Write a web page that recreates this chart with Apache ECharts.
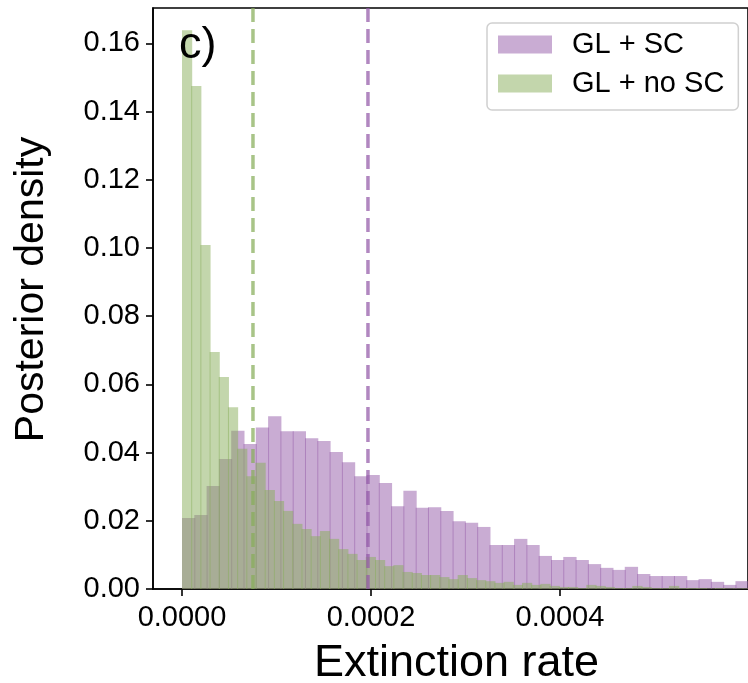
<!DOCTYPE html>
<html>
<head>
<meta charset="utf-8">
<script src="https://cdn.jsdelivr.net/npm/echarts@6/dist/echarts.min.js"></script>
<style>html,body{margin:0;padding:0;background:#fff}#c{width:748px;height:683px}</style>
</head>
<body>
<div id="c"></div>
<script>
// ---- data ----
const seriesNames = ['GL + SC', 'GL + no SC'];
const purpleBinWidth = 1.3016e-5;   // histogram bin width, GL + SC
const greenBinWidth = 9.725e-6;     // histogram bin width, GL + no SC
const purpleDensity = [0.0208,0.0217,0.0302,0.0381,0.0464,0.0425,0.0474,0.0507,0.0463,0.0463,
  0.0442,0.0434,0.0402,0.0372,0.0331,0.0334,0.0311,0.0243,0.0288,0.0238,
  0.0240,0.0229,0.0199,0.0194,0.0182,0.0129,0.0129,0.0147,0.0129,0.0097,
  0.0085,0.0094,0.0085,0.0073,0.0062,0.0056,0.0065,0.0044,0.0038,0.0038,
  0.0038,0.0026,0.0029,0.0021,0.0012,0.0023];
const greenDensity = [0.1639,0.1475,0.1009,0.0695,0.0622,0.0533,0.0411,0.0331,0.0370,0.0290,
  0.0258,0.0229,0.0191,0.0176,0.0155,0.0170,0.0147,0.0117,0.0103,0.0085,
  0.0094,0.0085,0.0067,0.0070,0.0050,0.0047,0.0041,0.0041,0.0035,0.0029,
  0.0041,0.0032,0.0026,0.0023,0.0018,0.0021,0.0012,0.0018,0.0012,0.0015,
  0.0009,0.0006,0.0006,0.0003,0.0012,0.0009,0.0006,0.0003,0.0003,0.0009,
  0.0006,0.0003,0.0003,0.0009,0.0003,0.0003,0.0003,0.0002,0.0003,0.0002,
  0.0002,0.0002];
const medians = [1.968e-4, 7.51e-5];  // dashed vertical lines (GL + SC, GL + no SC)
const xTicks = [0, 0.0002, 0.0004];
const yTicks = [0, 0.02, 0.04, 0.06, 0.08, 0.10, 0.12, 0.14, 0.16];
const xRange = [-3.07e-5, 5.99e-4];
const yRange = [0, 0.1704];

// ---- styles ----
const purpleFill = 'rgba(147,89,167,0.5)';
const greenFill = 'rgba(135,173,89,0.5)';
const purpleLine = 'rgba(147,89,167,0.72)';
const greenLine = 'rgba(135,173,89,0.72)';
const FONT = '"Liberation Sans", Arial, Helvetica, sans-serif';

function histRender(width) {
  return function (params, api) {
    const x0 = api.value(0), h = api.value(1);
    const p0 = api.coord([x0, 0]);
    const p1 = api.coord([x0 + width, h]);
    return {
      type: 'rect',
      shape: { x: p0[0], y: p1[1], width: p1[0] - p0[0] + 1, height: p0[1] - p1[1] },
      style: api.style()
    };
  };
}

function vline(value, color) {
  return {
    type: 'line', silent: true, symbol: 'none', z: 5,
    lineStyle: { color: color, width: 3.5, type: [14, 7] },
    data: [[value, yRange[0]], [value, yRange[1]]]
  };
}

const chart = echarts.init(document.getElementById('c'), null, { renderer: 'canvas' });
chart.setOption({
  animation: false,
  backgroundColor: '#fff',
  grid: { left: 153, top: 8, right: 0, bottom: 94, outerBoundsMode: 'none', containLabel: false,
    show: true, borderColor: '#000', borderWidth: 1.6, backgroundColor: 'transparent' },
  legend: {
    orient: 'vertical', left: 487, top: 23,
    data: seriesNames,
    icon: 'rect', itemWidth: 54, itemHeight: 18, itemGap: 10,
    padding: [7, 14, 12, 11],
    backgroundColor: 'rgba(255,255,255,0.8)', borderColor: '#d0d0d0', borderWidth: 1.5, borderRadius: 5,
    textStyle: { fontFamily: FONT, fontSize: 29, color: '#000', padding: [0, 0, 0, 15] }
  },
  xAxis: {
    type: 'value', min: xRange[0], max: xRange[1],
    name: 'Extinction rate', nameLocation: 'middle', nameGap: 52,
    nameTextStyle: { fontFamily: FONT, fontSize: 45, color: '#000', padding: [0, 0, 0, 12] },
    axisLine: { show: true, onZero: false, lineStyle: { color: '#000', width: 1.6 } },
    axisTick: { show: true, length: 7, lineStyle: { color: '#000', width: 1.6 }, customValues: xTicks },
    axisLabel: { fontFamily: FONT, fontSize: 29, color: '#000', margin: 14, customValues: xTicks,
      formatter: v => v.toFixed(4) },
    splitLine: { show: false }
  },
  yAxis: {
    type: 'value', min: yRange[0], max: yRange[1],
    name: 'Posterior density', nameLocation: 'middle', nameGap: 101,
    nameTextStyle: { fontFamily: FONT, fontSize: 41, color: '#000', padding: [0, 0, 0, 18] },
    axisLine: { show: true, onZero: false, lineStyle: { color: '#000', width: 1.6 } },
    axisTick: { show: true, length: 7, lineStyle: { color: '#000', width: 1.6 }, customValues: yTicks },
    axisLabel: { fontFamily: FONT, fontSize: 29, color: '#000', margin: 13, customValues: yTicks,
      formatter: v => v.toFixed(2) },
    splitLine: { show: false }
  },
  graphic: [{
    type: 'text', left: 179, top: 23, z: 100,
    style: { text: 'c)', fontFamily: FONT, fontSize: 45, fill: '#000' }
  }],
  series: [
    {
      name: seriesNames[0], type: 'custom', clip: true,
      itemStyle: { color: purpleFill },
      renderItem: histRender(purpleBinWidth),
      encode: { x: 0, y: 1 },
      data: purpleDensity.map((v, i) => [i * purpleBinWidth, v])
    },
    {
      name: seriesNames[1], type: 'custom', clip: true,
      itemStyle: { color: greenFill },
      renderItem: histRender(greenBinWidth),
      encode: { x: 0, y: 1 },
      data: greenDensity.map((v, i) => [i * greenBinWidth, v])
    },
    vline(medians[0], purpleLine),
    vline(medians[1], greenLine)
  ]
});
</script>
</body>
</html>
